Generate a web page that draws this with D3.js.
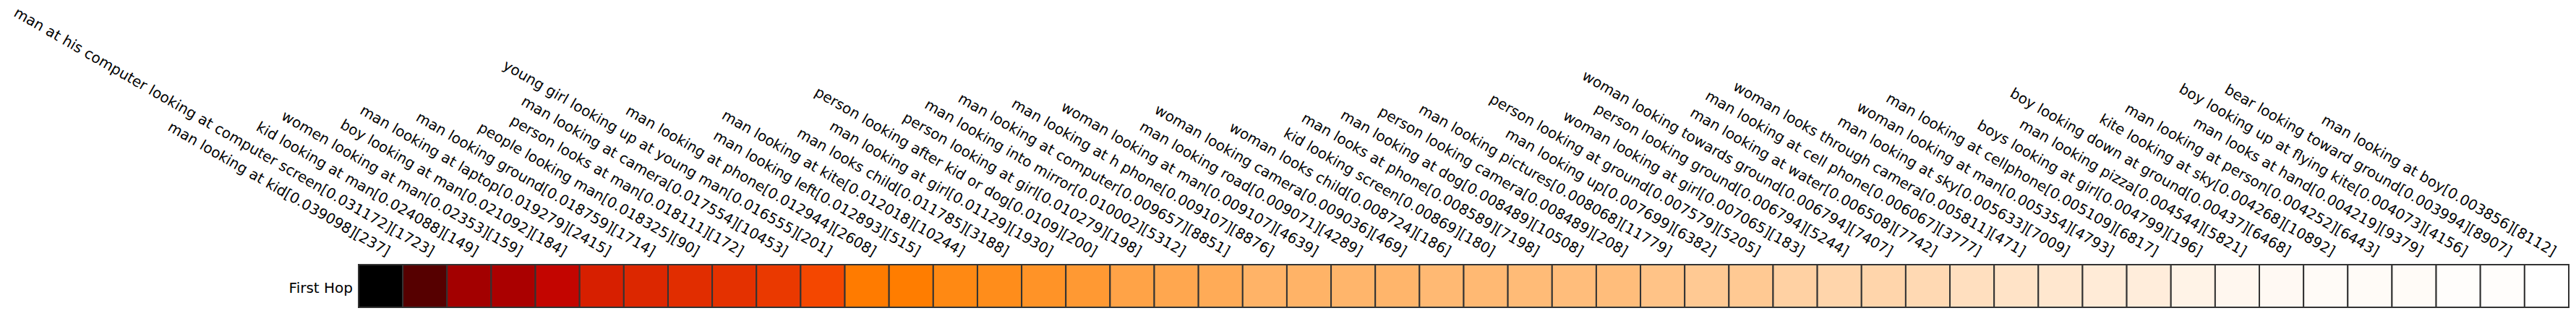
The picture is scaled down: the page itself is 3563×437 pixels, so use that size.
<!DOCTYPE html>
<html><head><meta charset="utf-8">
<script src="https://cdn.jsdelivr.net/npm/d3@7"></script>
<style>
body{margin:0;background:#fff}
svg{display:block}
text{font-family:"DejaVu Sans",sans-serif}
</style>
</head><body>
<svg id="c" width="3563" height="437"></svg>
<script>
const rowLabel = "First Hop";
const names = [
"man looking at kid",
"man at his computer looking at computer screen",
"kid looking at man",
"women looking at man",
"boy looking at man",
"man looking at laptop",
"man looking ground",
"people looking man",
"person looks at man",
"man looking at camera",
"young girl looking up at young man",
"man looking at phone",
"man looking left",
"man looking at kite",
"man looks child",
"man looking at girl",
"person looking after kid or dog",
"person looking at girl",
"man looking into mirror",
"man looking at computer",
"man looking at h phone",
"woman looking at man",
"man looking road",
"woman looking camera",
"woman looks child",
"kid looking screen",
"man looks at phone",
"man looking at dog",
"person looking camera",
"man looking pictures",
"man looking up",
"person looking at ground",
"woman looking at girl",
"person looking ground",
"woman looking towards ground",
"man looking at water",
"man looking at cell phone",
"woman looks through camera",
"man looking at sky",
"woman looking at man",
"man looking at cellphone",
"boys looking at girl",
"man looking pizza",
"boy looking down at ground",
"kite looking at sky",
"man looking at person",
"man looks at hand",
"boy looking up at flying kite",
"bear looking toward ground",
"man looking at boy"
];
const probs = [0.039098,0.031172,0.024088,0.02353,0.021092,0.019279,0.018759,0.018325,0.018111,0.017554,
0.016555,0.012944,0.012893,0.012018,0.011785,0.01129,0.0109,0.010279,0.010002,0.009657,
0.009107,0.009107,0.009071,0.009036,0.008724,0.00869,0.008589,0.008489,0.008489,0.008068,
0.007699,0.007579,0.007065,0.006794,0.006794,0.006508,0.006067,0.005811,0.005633,0.005354,
0.005109,0.004799,0.004544,0.00437,0.004268,0.004252,0.004219,0.004073,0.003994,0.003856];
const counts = [237,1723,149,159,184,2415,1714,90,172,10453,
201,2608,515,10244,3188,1930,200,198,5312,8851,
8876,4639,4289,469,186,180,7198,10508,208,11779,
6382,5205,183,5244,7407,7742,3777,471,7009,4793,
6817,196,5821,6468,10892,6443,9379,4156,8907,8112];

// matplotlib gist_heat (256-entry LUT)
function gistHeat(t){
  const i = Math.min(255, Math.max(0, Math.floor(t*256)));
  const v = i/255;
  const c = z => Math.round(255*Math.max(0, Math.min(1, z)));
  return `rgb(${c(1.5*v)},${c(2*v-1)},${c(4*v-3)})`;
}

const svg = d3.select("#c");
const idx = d3.range(names.length);
const xScale = d3.scaleBand().domain(idx).range([496, 3553]);
const yScale = d3.scaleBand().domain([rowLabel]).range([366, 425]);
const color = d3.scaleSequential(gistHeat).domain([d3.max(probs), d3.min(probs)]);

svg.append("g").selectAll("rect").data(idx).join("rect")
  .attr("x", i => xScale(i)).attr("y", yScale(rowLabel))
  .attr("width", xScale.bandwidth()).attr("height", yScale.bandwidth())
  .attr("fill", i => color(probs[i]))
  .attr("stroke", "#333").attr("stroke-width", 2);

// top tick labels
const topAxis = svg.append("g").attr("transform", "translate(0,355)")
  .call(d3.axisTop(xScale).tickSize(0).tickFormat(i => `${names[i]}[${probs[i]}][${counts[i]}]`));
topAxis.select(".domain").remove();
topAxis.attr("font-family", null).attr("font-size", null);
topAxis.selectAll("text")
  .attr("x", 0).attr("y", 0).attr("dy", null)
  .attr("transform", "translate(8,0) rotate(30)")
  .attr("text-anchor", "end")
  .attr("fill", "#000")
  .style("font-size", "20px")
  .style("font-family", "'DejaVu Sans', sans-serif");

// row label
const leftAxis = svg.append("g").attr("transform", "translate(496,0)")
  .call(d3.axisLeft(yScale).tickSize(0).tickPadding(8));
leftAxis.select(".domain").remove();
leftAxis.attr("font-family", null).attr("font-size", null);
leftAxis.selectAll("text")
  .attr("dy", "0.45em")
  .attr("fill", "#000")
  .style("font-size", "20px")
  .style("font-family", "'DejaVu Sans', sans-serif");
</script>
</body></html>
